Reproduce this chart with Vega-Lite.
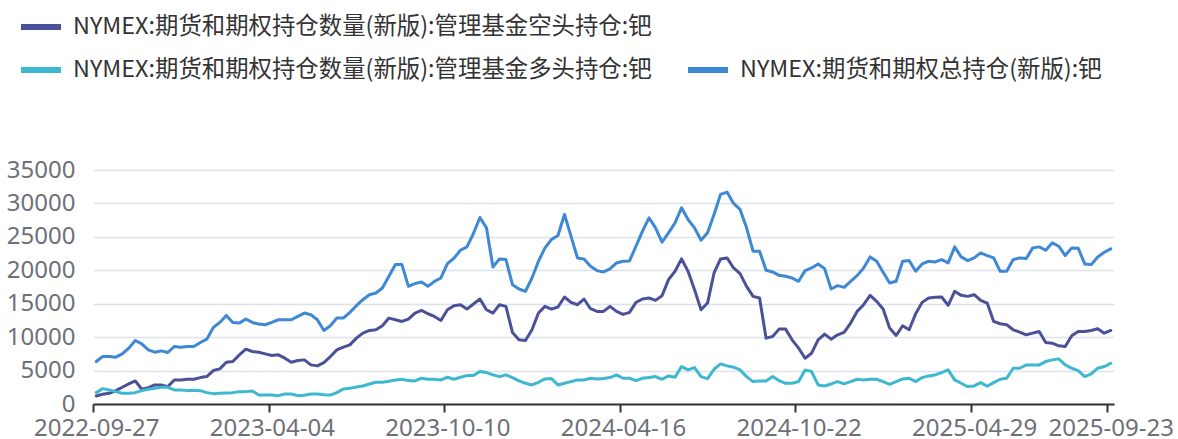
{
  "$schema": "https://vega.github.io/schema/vega-lite/v6.json",
  "width": 1021,
  "height": 234,
  "autosize": {"type": "none"},
  "padding": {"left": 93, "top": 170, "right": 64, "bottom": 35},
  "background": "white",
  "config": {"view": {"stroke": null}, "font": "Noto Sans"},
  "data": {"values": [
    {"d":"2022-09-27","s":1200,"l":1700,"t":6350},
    {"d":"2022-10-04","s":1450,"l":2300,"t":7100},
    {"d":"2022-10-11","s":1600,"l":2100,"t":7100},
    {"d":"2022-10-18","s":2000,"l":1850,"t":7000},
    {"d":"2022-10-25","s":2500,"l":1600,"t":7500},
    {"d":"2022-11-01","s":3000,"l":1600,"t":8350},
    {"d":"2022-11-08","s":3450,"l":1700,"t":9500},
    {"d":"2022-11-15","s":2200,"l":2000,"t":9000},
    {"d":"2022-11-22","s":2450,"l":2200,"t":8100},
    {"d":"2022-11-29","s":2850,"l":2350,"t":7750},
    {"d":"2022-12-06","s":2850,"l":2500,"t":7950},
    {"d":"2022-12-13","s":2600,"l":2500,"t":7700},
    {"d":"2022-12-20","s":3600,"l":2100,"t":8600},
    {"d":"2022-12-27","s":3600,"l":2100,"t":8500},
    {"d":"2023-01-03","s":3700,"l":2000,"t":8600},
    {"d":"2023-01-10","s":3700,"l":2050,"t":8600},
    {"d":"2023-01-17","s":3950,"l":2000,"t":9200},
    {"d":"2023-01-24","s":4100,"l":1700,"t":9700},
    {"d":"2023-01-31","s":5000,"l":1550,"t":11450},
    {"d":"2023-02-07","s":5250,"l":1600,"t":12200},
    {"d":"2023-02-14","s":6250,"l":1650,"t":13250},
    {"d":"2023-02-21","s":6350,"l":1700,"t":12200},
    {"d":"2023-02-28","s":7350,"l":1850,"t":12100},
    {"d":"2023-03-07","s":8200,"l":1850,"t":12700},
    {"d":"2023-03-14","s":7850,"l":1950,"t":12200},
    {"d":"2023-03-21","s":7750,"l":1350,"t":11950},
    {"d":"2023-03-28","s":7500,"l":1350,"t":11850},
    {"d":"2023-04-04","s":7250,"l":1350,"t":12200},
    {"d":"2023-04-11","s":7350,"l":1250,"t":12600},
    {"d":"2023-04-18","s":6850,"l":1500,"t":12600},
    {"d":"2023-04-25","s":6250,"l":1500,"t":12600},
    {"d":"2023-05-02","s":6500,"l":1250,"t":13100},
    {"d":"2023-05-09","s":6600,"l":1300,"t":13600},
    {"d":"2023-05-16","s":5850,"l":1500,"t":13350},
    {"d":"2023-05-23","s":5700,"l":1500,"t":12600},
    {"d":"2023-05-30","s":6200,"l":1400,"t":11000},
    {"d":"2023-06-06","s":7100,"l":1350,"t":11700},
    {"d":"2023-06-13","s":8100,"l":1700,"t":12850},
    {"d":"2023-06-20","s":8500,"l":2250,"t":12850},
    {"d":"2023-06-27","s":8850,"l":2350,"t":13700},
    {"d":"2023-07-04","s":9850,"l":2550,"t":14700},
    {"d":"2023-07-11","s":10600,"l":2700,"t":15600},
    {"d":"2023-07-18","s":11000,"l":3000,"t":16350},
    {"d":"2023-07-25","s":11100,"l":3250,"t":16600},
    {"d":"2023-08-01","s":11700,"l":3250,"t":17350},
    {"d":"2023-08-08","s":12850,"l":3400,"t":19100},
    {"d":"2023-08-15","s":12600,"l":3600,"t":20850},
    {"d":"2023-08-22","s":12350,"l":3700,"t":20850},
    {"d":"2023-08-29","s":12700,"l":3500,"t":17600},
    {"d":"2023-09-05","s":13600,"l":3450,"t":18000},
    {"d":"2023-09-12","s":14000,"l":3850,"t":18250},
    {"d":"2023-09-19","s":13500,"l":3700,"t":17600},
    {"d":"2023-09-26","s":13100,"l":3700,"t":18350},
    {"d":"2023-10-03","s":12500,"l":3600,"t":18850},
    {"d":"2023-10-10","s":14100,"l":4000,"t":21000},
    {"d":"2023-10-17","s":14700,"l":3700,"t":21800},
    {"d":"2023-10-24","s":14850,"l":4000,"t":23000},
    {"d":"2023-10-31","s":14200,"l":4250,"t":23500},
    {"d":"2023-11-07","s":14950,"l":4250,"t":25500},
    {"d":"2023-11-14","s":15700,"l":4850,"t":27900},
    {"d":"2023-11-21","s":14100,"l":4700,"t":26350},
    {"d":"2023-11-28","s":13600,"l":4350,"t":20500},
    {"d":"2023-12-05","s":14850,"l":4100,"t":21700},
    {"d":"2023-12-12","s":14600,"l":4350,"t":21600},
    {"d":"2023-12-19","s":10700,"l":3950,"t":17850},
    {"d":"2023-12-26","s":9600,"l":3450,"t":17200},
    {"d":"2024-01-02","s":9500,"l":3100,"t":16850},
    {"d":"2024-01-09","s":11100,"l":2850,"t":18850},
    {"d":"2024-01-16","s":13600,"l":3250,"t":21350},
    {"d":"2024-01-23","s":14600,"l":3750,"t":23350},
    {"d":"2024-01-30","s":14200,"l":3800,"t":24600},
    {"d":"2024-02-06","s":14500,"l":2850,"t":25200},
    {"d":"2024-02-13","s":16000,"l":3100,"t":28350},
    {"d":"2024-02-20","s":15200,"l":3350,"t":25100},
    {"d":"2024-02-27","s":14850,"l":3600,"t":21850},
    {"d":"2024-03-05","s":15700,"l":3600,"t":21700},
    {"d":"2024-03-12","s":14250,"l":3850,"t":20600},
    {"d":"2024-03-19","s":13850,"l":3750,"t":19950},
    {"d":"2024-03-26","s":13850,"l":3800,"t":19750},
    {"d":"2024-04-02","s":14600,"l":3950,"t":20200},
    {"d":"2024-04-09","s":13850,"l":4350,"t":21100},
    {"d":"2024-04-16","s":13400,"l":3850,"t":21350},
    {"d":"2024-04-23","s":13700,"l":3850,"t":21400},
    {"d":"2024-04-30","s":15200,"l":3500,"t":23600},
    {"d":"2024-05-07","s":15700,"l":3850,"t":25850},
    {"d":"2024-05-14","s":15850,"l":3950,"t":27850},
    {"d":"2024-05-21","s":15500,"l":4100,"t":26350},
    {"d":"2024-05-28","s":16200,"l":3700,"t":24200},
    {"d":"2024-06-04","s":18600,"l":4200,"t":25600},
    {"d":"2024-06-11","s":19850,"l":4000,"t":27100},
    {"d":"2024-06-18","s":21700,"l":5600,"t":29350},
    {"d":"2024-06-25","s":19850,"l":5100,"t":27600},
    {"d":"2024-07-02","s":17100,"l":5450,"t":26350},
    {"d":"2024-07-09","s":14100,"l":4100,"t":24500},
    {"d":"2024-07-16","s":15100,"l":3800,"t":25600},
    {"d":"2024-07-23","s":19600,"l":5200,"t":28350},
    {"d":"2024-07-30","s":21700,"l":6000,"t":31350},
    {"d":"2024-08-06","s":21850,"l":5700,"t":31700},
    {"d":"2024-08-13","s":20350,"l":5500,"t":30000},
    {"d":"2024-08-20","s":19500,"l":5100,"t":29100},
    {"d":"2024-08-27","s":17600,"l":4100,"t":26350},
    {"d":"2024-09-03","s":16100,"l":3350,"t":22850},
    {"d":"2024-09-10","s":15850,"l":3450,"t":22850},
    {"d":"2024-09-17","s":9850,"l":3450,"t":20000},
    {"d":"2024-09-24","s":10100,"l":4100,"t":19750},
    {"d":"2024-10-01","s":11200,"l":3500,"t":19250},
    {"d":"2024-10-08","s":11200,"l":3100,"t":19100},
    {"d":"2024-10-15","s":9600,"l":3100,"t":18850},
    {"d":"2024-10-22","s":8350,"l":3350,"t":18350},
    {"d":"2024-10-29","s":6850,"l":5100,"t":19950},
    {"d":"2024-11-05","s":7600,"l":4850,"t":20350},
    {"d":"2024-11-12","s":9600,"l":2850,"t":20950},
    {"d":"2024-11-19","s":10450,"l":2700,"t":20250},
    {"d":"2024-11-26","s":9700,"l":3000,"t":17200},
    {"d":"2024-12-03","s":10350,"l":3350,"t":17700},
    {"d":"2024-12-10","s":10700,"l":3000,"t":17450},
    {"d":"2024-12-17","s":12100,"l":3350,"t":18350},
    {"d":"2024-12-24","s":13850,"l":3700,"t":19200},
    {"d":"2024-12-31","s":14850,"l":3600,"t":20350},
    {"d":"2025-01-07","s":16250,"l":3700,"t":22000},
    {"d":"2025-01-14","s":15350,"l":3700,"t":21350},
    {"d":"2025-01-21","s":14200,"l":3350,"t":19700},
    {"d":"2025-01-28","s":11350,"l":2950,"t":18100},
    {"d":"2025-02-04","s":10250,"l":3350,"t":18350},
    {"d":"2025-02-11","s":11700,"l":3750,"t":21350},
    {"d":"2025-02-18","s":11100,"l":3850,"t":21450},
    {"d":"2025-02-25","s":13500,"l":3350,"t":19850},
    {"d":"2025-03-04","s":15200,"l":3950,"t":20950},
    {"d":"2025-03-11","s":15850,"l":4200,"t":21350},
    {"d":"2025-03-18","s":15950,"l":4350,"t":21250},
    {"d":"2025-03-25","s":16000,"l":4700,"t":21600},
    {"d":"2025-04-01","s":14750,"l":5100,"t":21100},
    {"d":"2025-04-08","s":16850,"l":3600,"t":23500},
    {"d":"2025-04-15","s":16250,"l":3100,"t":22000},
    {"d":"2025-04-22","s":16100,"l":2600,"t":21450},
    {"d":"2025-04-29","s":16350,"l":2700,"t":21850},
    {"d":"2025-05-06","s":15500,"l":3200,"t":22600},
    {"d":"2025-05-13","s":15100,"l":2650,"t":22200},
    {"d":"2025-05-20","s":12350,"l":3200,"t":21850},
    {"d":"2025-05-27","s":12000,"l":3700,"t":19850},
    {"d":"2025-06-03","s":11850,"l":3850,"t":19850},
    {"d":"2025-06-10","s":11100,"l":5350,"t":21600},
    {"d":"2025-06-17","s":10750,"l":5350,"t":21850},
    {"d":"2025-06-24","s":10350,"l":5850,"t":21750},
    {"d":"2025-07-01","s":10600,"l":5850,"t":23350},
    {"d":"2025-07-08","s":10850,"l":5850,"t":23500},
    {"d":"2025-07-15","s":9200,"l":6350,"t":23000},
    {"d":"2025-07-22","s":9100,"l":6600,"t":24100},
    {"d":"2025-07-29","s":8700,"l":6750,"t":23600},
    {"d":"2025-08-05","s":8600,"l":5850,"t":22200},
    {"d":"2025-08-12","s":10200,"l":5350,"t":23350},
    {"d":"2025-08-19","s":10850,"l":5000,"t":23300},
    {"d":"2025-08-26","s":10850,"l":4100,"t":20950},
    {"d":"2025-09-02","s":11000,"l":4500,"t":20850},
    {"d":"2025-09-09","s":11250,"l":5350,"t":22000},
    {"d":"2025-09-16","s":10600,"l":5600,"t":22700},
    {"d":"2025-09-23","s":11000,"l":6100,"t":23200}
  ]},
  "transform": [{"fold": ["s", "l", "t"], "as": ["k", "v"]}],
  "mark": {"type": "line", "strokeWidth": 3, "strokeJoin": "round", "strokeCap": "round"},
  "encoding": {
    "x": {
      "field": "d",
      "type": "temporal",
      "scale": {
        "type": "utc",
        "domain": [
          {"year": 2022, "month": 9, "date": 23, "hours": 12, "utc": true},
          {"year": 2025, "month": 9, "date": 26, "hours": 12, "utc": true}
        ]
      },
      "axis": {
        "title": null,
        "grid": false,
        "values": [
          {"year": 2022, "month": 9, "date": 27, "utc": true},
          {"year": 2023, "month": 4, "date": 4, "utc": true},
          {"year": 2023, "month": 10, "date": 10, "utc": true},
          {"year": 2024, "month": 4, "date": 16, "utc": true},
          {"year": 2024, "month": 10, "date": 22, "utc": true},
          {"year": 2025, "month": 4, "date": 29, "utc": true},
          {"year": 2025, "month": 9, "date": 23, "utc": true}
        ],
        "labelExpr": "utcFormat(datum.value, '%Y-%m-%d')",
        "domainColor": "#333333",
        "domainWidth": 2,
        "tickColor": "#333333",
        "tickWidth": 2,
        "tickSize": 8,
        "tickOffset": -3.25,
        "labelOffset": 3.25,
        "labelFontSize": 24,
        "labelColor": "#6e7079",
        "labelPadding": 4,
        "labelOverlap": false,
        "labelFlush": false,
        "labelBound": false
      }
    },
    "y": {
      "field": "v",
      "type": "quantitative",
      "scale": {"domain": [0, 35000], "nice": false},
      "axis": {
        "title": null,
        "values": [0, 5000, 10000, 15000, 20000, 25000, 30000, 35000],
        "format": "d",
        "domain": false,
        "ticks": false,
        "gridColor": "#dde1ea",
        "gridWidth": 1.5,
        "labelFontSize": 24,
        "labelColor": "#6e7079",
        "labelPadding": 18
      }
    },
    "color": {
      "field": "k",
      "type": "nominal",
      "scale": {
        "domain": ["s", "_", "l", "t"],
        "range": ["#4b5198", "transparent", "#3db8d0", "#3e88d6"]
      },
      "legend": {
        "title": null,
        "orient": "none",
        "legendX": -75,
        "legendY": -166,
        "columns": 2,
        "direction": "horizontal",
        "symbolType": "stroke",
        "symbolSize": 1600,
        "symbolStrokeWidth": 6,
        "labelFont": "Noto Sans CJK SC",
        "labelFontSize": 23.4,
        "labelColor": "#333333",
        "labelLimit": 1000,
        "labelOffset": 9,
        "columnPadding": 24,
        "rowPadding": 8,
        "labelExpr": "datum.value == 's' ? 'NYMEX:期货和期权持仓数量(新版):管理基金空头持仓:钯' : datum.value == 'l' ? 'NYMEX:期货和期权持仓数量(新版):管理基金多头持仓:钯' : datum.value == 't' ? 'NYMEX:期货和期权总持仓(新版):钯' : ''"
      }
    }
  }
}
